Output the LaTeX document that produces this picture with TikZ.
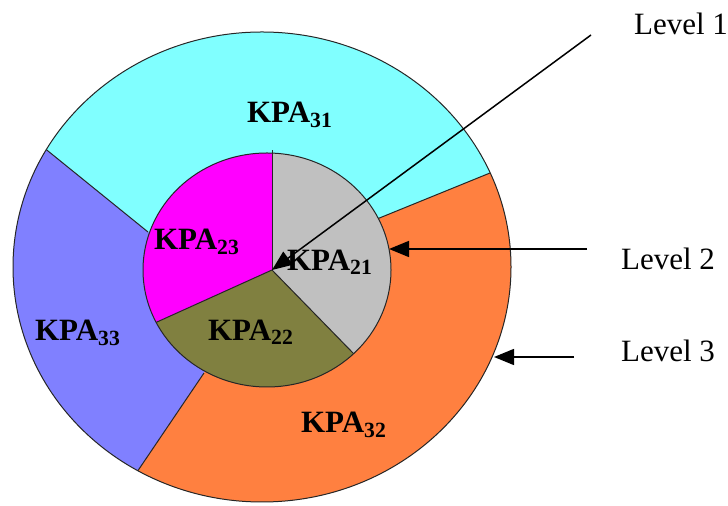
\documentclass[tikz,border=0pt]{standalone}
\usepackage{fontspec}
\setmainfont{Liberation Serif}
\usetikzlibrary{arrows.meta,positioning}
\definecolor{kcyan}{RGB}{128,255,255}
\definecolor{kblue}{RGB}{128,128,255}
\definecolor{korange}{RGB}{255,128,64}
\definecolor{kmagenta}{RGB}{255,0,255}
\definecolor{kgrey}{RGB}{192,192,192}
\definecolor{kolive}{RGB}{128,128,64}
\tikzset{
	edge/.style={draw=black!85, line width=0.5pt},
	kpa/.style={font=\fontsize{15.5}{17}\selectfont\bfseries, inner sep=0pt},
	level/.style={font=\fontsize{15.5}{18}\selectfont, inner sep=0pt},
	pointer/.style={-{Triangle[length=10pt,width=8pt]}, line width=0.75pt}
}

\begin{document}
\begin{tikzpicture}[x=0.5pt,y=-0.5pt]
	\useasboundingbox (0,0) rectangle (728,506);
	\coordinate (hub) at (272,270);
	\coordinate (q1) at (148,232);
	\coordinate (p1) at (-52,70);
	\coordinate (q2) at (377,219);
	\coordinate (p2) at (603,127);
	\coordinate (q3) at (204,373);
	\coordinate (p3) at (66,577);
	% level 3 ring
	\begin{scope}
		\clip (262,267) ellipse [x radius=124.5pt, y radius=117.5pt];
		\fill[kcyan] (hub) -- (q1) -- (p1) -- (-52,-50) -- (603,-50) -- (p2) -- (q2) -- cycle;
		\fill[kblue] (hub) -- (q1) -- (p1) -- (-52,577) -- (p3) -- (q3) -- cycle;
		\fill[korange] (hub) -- (q2) -- (p2) -- (603,577) -- (p3) -- (q3) -- cycle;
		\draw[edge] (q1) -- (p1) (q2) -- (p2) (q3) -- (p3);
	\end{scope}
	\draw[edge] (262,267) ellipse [x radius=124.5pt, y radius=117.5pt];
	% level 2 pie
	\coordinate (a) at (272,100);
	\coordinate (b) at (512,516);
	\coordinate (c) at (-73,426);
	\begin{scope}
		\clip (267,270) ellipse [x radius=62pt, y radius=58.5pt];
		\fill[kgrey] (hub) -- (a) -- (512,100) -- (b) -- cycle;
		\fill[kolive] (hub) -- (b) -- (c) -- cycle;
		\fill[kmagenta] (hub) -- (c) -- (-73,100) -- (a) -- cycle;
		\draw[edge] (hub) -- (b) (hub) -- (c);
	\end{scope}
	\draw[edge] (267,270) ellipse [x radius=62pt, y radius=58.5pt];
	\draw[edge] (hub) -- (272,150);

	\node[kpa] (k31) at (290,115) {KPA\textsubscript{31}};
	\node[kpa] (k32) at (344,425) {KPA\textsubscript{32}};
	\node[kpa] (k33) at (78,333) {KPA\textsubscript{33}};
	\node[kpa] (k21) at (330,262) {KPA\textsubscript{21}};
	\node[kpa] (k22) at (251,332) {KPA\textsubscript{22}};
	\node[kpa] (k23) at (197,242) {KPA\textsubscript{23}};

	\node[level] (lv1) at (681,24) {Level 1};
	\node[level] (lv2) at (668,259) {Level 2};
	\node[level] (lv3) at (668,351) {Level 3};
	\coordinate (t1) at (591,35);
	\coordinate (t2) at (587,249);
	\coordinate (t3) at (574,357);
	\coordinate (e2) at (389,249);
	\coordinate (e3) at (494,357);
	\draw[pointer] (t1) -- (hub);
	\draw[pointer] (t2) -- (e2);
	\draw[pointer] (t3) -- (e3);
\end{tikzpicture}
\end{document}
